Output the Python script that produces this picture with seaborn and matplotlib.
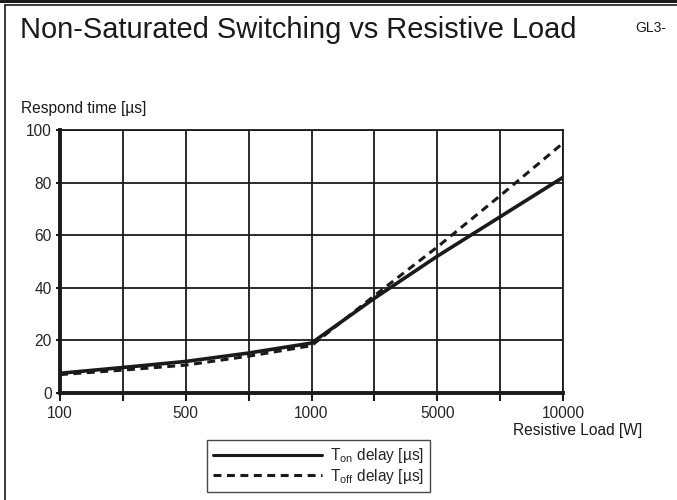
import numpy as np
import pandas as pd
import matplotlib
matplotlib.use('Agg')
import matplotlib.pyplot as plt
import seaborn as sns
from matplotlib.lines import Line2D

sns.set_style('white')
plt.rcParams['font.family'] = ['Liberation Sans', 'DejaVu Sans']
plt.rcParams['mathtext.fontset'] = 'custom'
plt.rcParams['mathtext.rm'] = 'Liberation Sans'
plt.rcParams['mathtext.it'] = 'Liberation Sans'

# x is drawn on an even grid: labelled loads sit on every second grid line
grid_pos = [0, 1, 2, 3, 4, 5, 6, 7, 8]
tick_pos = [0, 2, 4, 6, 8]
tick_labels = ['100', '500', '1000', '5000', '10000']

t_on = [7.5, 9.7, 12.0, 15.2, 19.0, 36.0, 52.0, 67.0, 82.0]
t_off = [7.0, 8.7, 10.6, 14.0, 18.0, 37.0, 55.5, 75.0, 95.0]

df = pd.DataFrame({'pos': grid_pos, 'on': t_on, 'off': t_off})

fs = 11.2
ink = '#1a1a1a'

fig = plt.figure(figsize=(6.77, 5), dpi=100)
ax = fig.add_axes([60 / 677, 107 / 500, 503 / 677, 263 / 500])

sns.lineplot(x='pos', y='on', data=df, ax=ax, color=ink, lw=2.6)
sns.lineplot(x='pos', y='off', data=df, ax=ax, color=ink, lw=2.2,
             linestyle=(0, (2.6, 1.8)))

ax.set_xlim(0, 8)
ax.set_ylim(0, 100)
ax.set_xticks(tick_pos)
ax.set_xticklabels(tick_labels)
ax.set_xticks([1, 3, 5, 7], minor=True)
ax.set_yticks([0, 20, 40, 60, 80, 100])
ax.grid(True, which='both', color=ink, lw=1.3)
ax.set_axisbelow(True)
ax.tick_params(axis='x', which='both', direction='out', length=6, width=1.5,
               color=ink, bottom=True, labelsize=fs, pad=3)
ax.tick_params(axis='y', direction='out', length=3, width=1.5, color=ink,
               left=True, labelsize=fs, pad=3)
for s in ['left', 'bottom']:
    ax.spines[s].set_linewidth(2.8)
    ax.spines[s].set_color(ink)
for s in ['top', 'right']:
    ax.spines[s].set_linewidth(1.3)
    ax.spines[s].set_color(ink)
ax.set_xlabel('')
ax.set_ylabel('')

fig.text(20 / 677, 1 - 30 / 500, 'Non-Saturated Switching vs Resistive Load',
         fontsize=20.9, color=ink, va='center', ha='left')
fig.text(635 / 677, 1 - 28 / 500, 'GL3-', fontsize=10, color=ink,
         va='center', ha='left')
fig.text(21 / 677, 1 - 109 / 500, 'Respond time [µs]', fontsize=fs,
         color=ink, va='center', ha='left')
fig.text(642 / 677, 1 - 430 / 500, 'Resistive Load [W]', fontsize=fs,
         color=ink, va='center', ha='right')

handles = [Line2D([], [], color=ink, lw=2.2),
           Line2D([], [], color=ink, lw=2.2, linestyle=(0, (2.6, 1.8)))]
leg = fig.legend(handles, [r'T$_{\rm on}$ delay [µs]', r'T$_{\rm off}$ delay [µs]'],
                 loc='center', bbox_to_anchor=(318.5 / 677, 1 - 466 / 500),
                 frameon=True, fancybox=False, fontsize=fs, handlelength=7.0,
                 handletextpad=0.55, borderpad=0.4, labelspacing=0.1,
                 borderaxespad=0)
leg.get_frame().set_edgecolor(ink)
leg.get_frame().set_linewidth(1.0)

# page frame
fig.add_artist(Line2D([0, 1], [1 - 1 / 500, 1 - 1 / 500], color=ink, lw=2.2))
fig.add_artist(Line2D([4.5 / 677, 1], [1 - 5 / 500, 1 - 5 / 500], color=ink, lw=1.2))
fig.add_artist(Line2D([4.5 / 677, 4.5 / 677], [0, 1 - 5 / 500], color=ink, lw=1.2))

fig.savefig('out.png', dpi=100)
